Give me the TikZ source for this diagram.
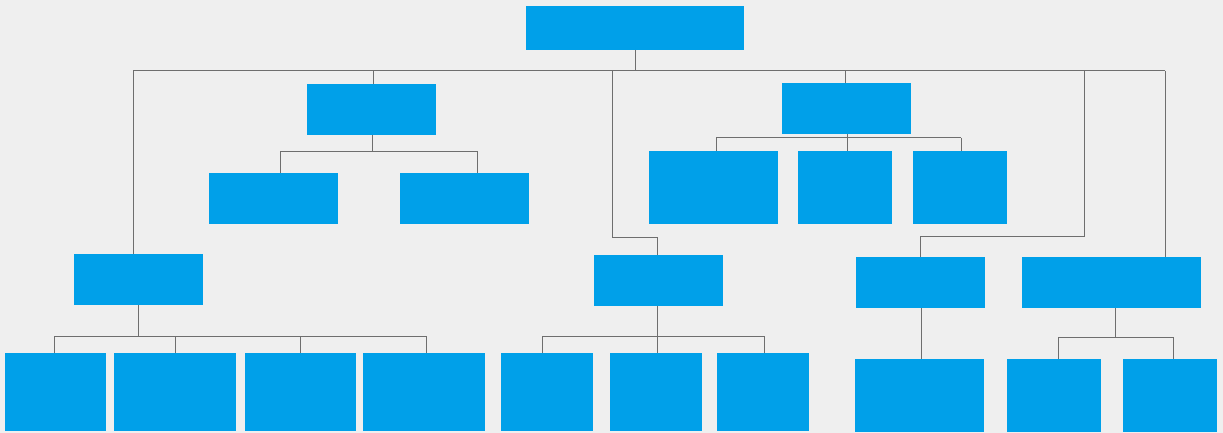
\documentclass[tikz,border=0pt]{standalone}
\usetikzlibrary{calc}
\definecolor{boxblue}{RGB}{0,160,233}
\definecolor{bggray}{RGB}{239,239,239}
\definecolor{linegray}{RGB}{110,110,110}
\begin{document}
\begin{tikzpicture}[x=1pt,y=-1pt,
  box/.style={fill=boxblue,draw=none,inner sep=0pt,outer sep=0pt},
  link/.style={draw=linegray,line width=1pt}]
\useasboundingbox (0,0) rectangle (1223,433);
\fill[bggray] (0,0) rectangle (1223,433);
% boxes
\node[box,minimum width=218pt,minimum height=44pt] (root) at (635,28) {};
\node[box,minimum width=129pt,minimum height=51pt] (A) at (371.5,109.5) {};
\node[box,minimum width=129pt,minimum height=51pt] (B1) at (273.5,198.5) {};
\node[box,minimum width=129pt,minimum height=51pt] (B2) at (464.5,198.5) {};
\node[box,minimum width=129pt,minimum height=51pt] (C) at (138.5,279.5) {};
\node[box,minimum width=101pt,minimum height=78pt] (D1) at (55.5,392) {};
\node[box,minimum width=122pt,minimum height=78pt] (D2) at (175,392) {};
\node[box,minimum width=111pt,minimum height=78pt] (D3) at (300.5,392) {};
\node[box,minimum width=122pt,minimum height=78pt] (D4) at (424,392) {};
\node[box,minimum width=129pt,minimum height=51pt] (E) at (658.5,280.5) {};
\node[box,minimum width=92pt,minimum height=78pt] (F1) at (547,392) {};
\node[box,minimum width=92pt,minimum height=78pt] (F2) at (656,392) {};
\node[box,minimum width=92pt,minimum height=78pt] (F3) at (763,392) {};
\node[box,minimum width=129pt,minimum height=51pt] (G) at (846.5,108.5) {};
\node[box,minimum width=129pt,minimum height=73pt] (H1) at (713.5,187.5) {};
\node[box,minimum width=94pt,minimum height=73pt] (H2) at (845,187.5) {};
\node[box,minimum width=94pt,minimum height=73pt] (H3) at (960,187.5) {};
\node[box,minimum width=129pt,minimum height=51pt] (I) at (920.5,282.5) {};
\node[box,minimum width=179pt,minimum height=51pt] (J) at (1111.5,282.5) {};
\node[box,minimum width=129pt,minimum height=73pt] (K) at (919.5,395.5) {};
\node[box,minimum width=94pt,minimum height=73pt] (L1) at (1054,395.5) {};
\node[box,minimum width=94pt,minimum height=73pt] (L2) at (1170,395.5) {};
% junction coordinates
\coordinate (busL) at (133,71);
\coordinate (busR) at (1165,71);
\coordinate (tA) at (373,71);
\coordinate (tM) at (612,71);
\coordinate (tG) at (845,71);
\coordinate (tI) at (1084,71);
\coordinate (mE) at (657,237);
\coordinate (mI) at (920,236);
\coordinate (bA1) at (280,151);
\coordinate (bA2) at (477,151);
\coordinate (bC1) at (54,336);
\coordinate (bC2) at (175,336);
\coordinate (bC3) at (300,336);
\coordinate (bC4) at (426,336);
\coordinate (bE1) at (542,336);
\coordinate (bE2) at (657,336);
\coordinate (bE3) at (764,336);
\coordinate (bG1) at (716,138);
\coordinate (bG2) at (847,138);
\coordinate (bG3) at (961,138);
\coordinate (bJ1) at (1058,337);
\coordinate (bJ2) at (1173,337);
% connectors
\draw[link] (root.south) -- (root.south |- busL);
\draw[link] (busL) -- (busR);
\draw[link] (busL) -- (busL |- C.north);
\draw[link] (busR) -- (busR |- J.north);
\draw[link] (tA) -- (tA |- A.north);
\draw[link] (tG) -- (tG |- G.north);
\draw[link] (tM) -- (tM |- mE) -- (mE) -- (mE |- E.north);
\draw[link] (tI) -- (tI |- mI) -- (mI) -- (mI |- I.north);
% A children
\draw[link] ($(A.south)+(1,0)$) -- ($(A.south |- bA1)+(1,0)$);
\draw[link] (bA1) -- (bA2);
\draw[link] (bA1) -- (bA1 |- B1.north);
\draw[link] (bA2) -- (bA2 |- B2.north);
% C children
\draw[link] (C.south) -- (C.south |- bC1);
\draw[link] (bC1) -- (bC4);
\foreach \c/\n in {bC1/D1,bC2/D2,bC3/D3,bC4/D4}
  \draw[link] (\c) -- (\c |- \n.north);
% E children
\draw[link] (bE2 |- E.south) -- (bE2);
\draw[link] (bE1) -- (bE3);
\foreach \c/\n in {bE1/F1,bE2/F2,bE3/F3}
  \draw[link] (\c) -- (\c |- \n.north);
% G children
\draw[link] (bG2 |- G.south) -- (bG2);
\draw[link] (bG1) -- (bG3);
\foreach \c/\n in {bG1/H1,bG2/H2,bG3/H3}
  \draw[link] (\c) -- (\c |- \n.north);
% I child
\draw[link] ($(I.south)+(0.5,0)$) -- ($(I.south |- K.north)+(0.5,0)$);
% J children
\draw[link] ($(J.south)+(3.5,0)$) -- ($(J.south |- bJ1)+(3.5,0)$);
\draw[link] (bJ1) -- (bJ2);
\draw[link] (bJ1) -- (bJ1 |- L1.north);
\draw[link] (bJ2) -- (bJ2 |- L2.north);
\end{tikzpicture}
\end{document}
